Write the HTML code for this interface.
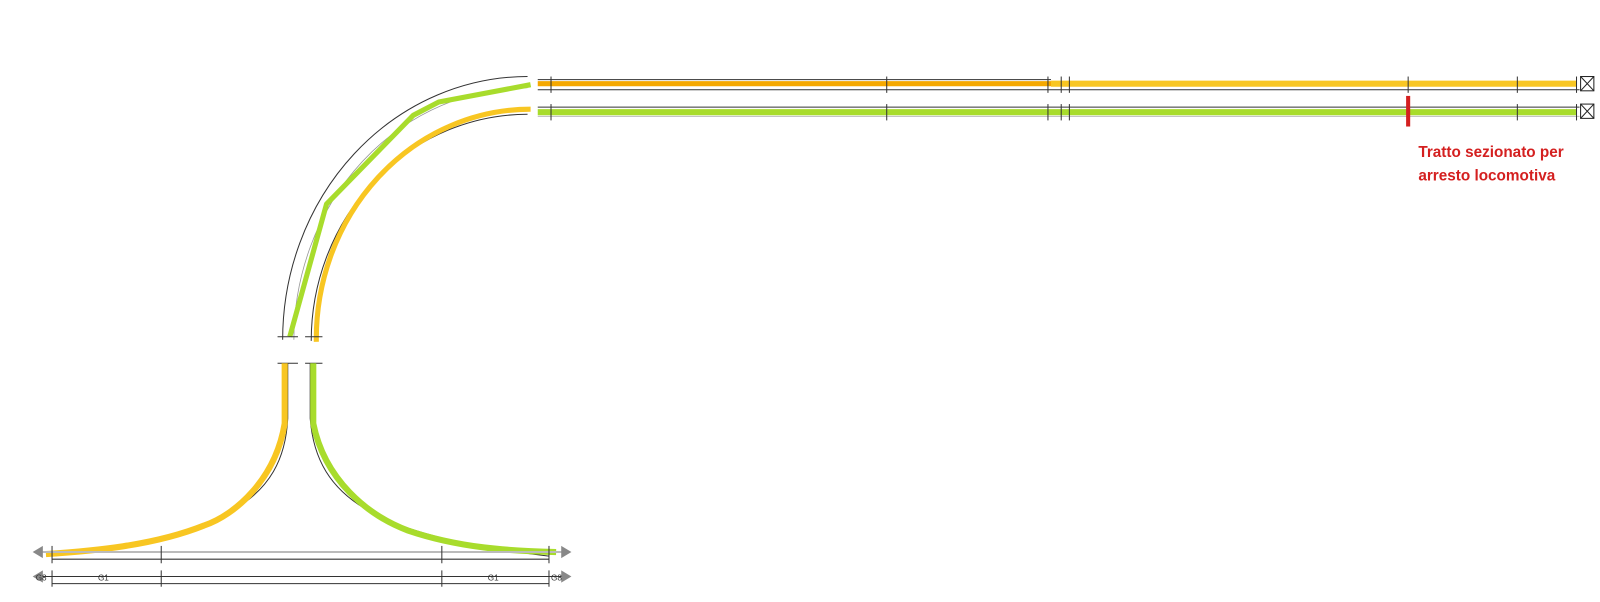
<!DOCTYPE html>
<html><head><meta charset="utf-8"><style>
html,body{margin:0;padding:0;background:#fff;width:1600px;height:602px;overflow:hidden}
svg{display:block}
</style></head><body>
<svg width="1600" height="602" viewBox="0 0 1600 602" xmlns="http://www.w3.org/2000/svg">
<g transform="scale(1.0204)">
<g fill="none" stroke-linecap="butt">
<line x1="527" y1="78" x2="1030" y2="78" stroke="#333" stroke-width="1"/>
<line x1="527" y1="88" x2="1548" y2="88" stroke="#333" stroke-width="1"/>
<line x1="527" y1="82" x2="1030" y2="82" stroke="#f5a800" stroke-width="5"/>
<line x1="1030" y1="82" x2="1545" y2="82" stroke="#f8c622" stroke-width="6"/>
<line x1="527" y1="105" x2="1548" y2="105" stroke="#333" stroke-width="1"/>
<line x1="527" y1="110" x2="1545" y2="110" stroke="#a8dc2c" stroke-width="6"/>
<line x1="527" y1="114" x2="1548" y2="114" stroke="#bbb" stroke-width="1"/>
<g stroke="#333" stroke-width="1">
<line x1="540" y1="75" x2="540" y2="91"/><line x1="869" y1="75" x2="869" y2="91"/><line x1="1027" y1="75" x2="1027" y2="91"/><line x1="1040" y1="75" x2="1040" y2="91"/><line x1="1048" y1="75" x2="1048" y2="91"/><line x1="1380" y1="75" x2="1380" y2="91"/><line x1="1487" y1="75" x2="1487" y2="91"/><line x1="1545" y1="75" x2="1545" y2="91"/>
<line x1="540" y1="102" x2="540" y2="118"/><line x1="869" y1="102" x2="869" y2="118"/><line x1="1027" y1="102" x2="1027" y2="118"/><line x1="1040" y1="102" x2="1040" y2="118"/><line x1="1048" y1="102" x2="1048" y2="118"/><line x1="1487" y1="102" x2="1487" y2="118"/><line x1="1545" y1="102" x2="1545" y2="118"/>
</g>
<g stroke="#222" stroke-width="1">
<rect x="1549" y="75" width="13" height="14"/><line x1="1549" y1="75" x2="1562" y2="89"/><line x1="1562" y1="75" x2="1549" y2="89"/>
<rect x="1549" y="102" width="13" height="14"/><line x1="1549" y1="102" x2="1562" y2="116"/><line x1="1562" y1="102" x2="1549" y2="116"/>
</g>
<line x1="1380" y1="94" x2="1380" y2="124" stroke="#d42020" stroke-width="4"/>

<path d="M517 75 A240 258 0 0 0 277 333" stroke="#333" stroke-width="1"/>
<path d="M517 86 A229 247 0 0 0 288 333" stroke="#999" stroke-width="0.8"/>
<path d="M517 112 A212 222 0 0 0 305 334" stroke="#333" stroke-width="1"/>
<polyline points="284,330 320,200 405,113 430,100 520,83" stroke="#a8dc2c" stroke-width="5" stroke-linejoin="round"/>
<path d="M520 107 A210 225 0 0 0 310 335" stroke="#f8c622" stroke-width="5"/>
<g stroke="#333" stroke-width="1">
<line x1="272" y1="330" x2="292" y2="330"/><line x1="299" y1="330" x2="316" y2="330"/>
<line x1="272" y1="356" x2="292" y2="356"/><line x1="299" y1="356" x2="316" y2="356"/>
</g>

<path d="M282 356 L282 410 C278 490 220 525 51 545" stroke="#333" stroke-width="1"/>
<path d="M279 356 L279 415 C270 470 230 505 200 515 C150 535 90 540 45 543" stroke="#f8c622" stroke-width="6"/>
<path d="M304 356 L304 410 C310 490 370 525 538 545" stroke="#333" stroke-width="1"/>
<path d="M307 356 L307 415 C318 470 360 505 400 520 C450 537 500 540 545 541" stroke="#a8dc2c" stroke-width="6"/>

<line x1="40" y1="541" x2="552" y2="541" stroke="#bbb" stroke-width="2"/>
<line x1="51" y1="548" x2="538" y2="548" stroke="#333" stroke-width="1"/>
<line x1="40" y1="565" x2="552" y2="565" stroke="#333" stroke-width="1"/>
<line x1="51" y1="572" x2="538" y2="572" stroke="#333" stroke-width="1"/>
<g stroke="#333" stroke-width="1">
<line x1="51" y1="535" x2="51" y2="552"/><line x1="158" y1="535" x2="158" y2="552"/><line x1="433" y1="535" x2="433" y2="552"/><line x1="538" y1="535" x2="538" y2="552"/>
<line x1="51" y1="559" x2="51" y2="575"/><line x1="158" y1="559" x2="158" y2="575"/><line x1="433" y1="559" x2="433" y2="575"/><line x1="538" y1="559" x2="538" y2="575"/>
</g>
</g>
<g fill="#888">
<polygon points="32,541 42,535 42,547"/><polygon points="560,541 550,535 550,547"/>
<polygon points="32,565 42,559 42,571"/><polygon points="560,565 550,559 550,571"/>
</g>
<g font-family="Liberation Sans, sans-serif" font-size="8" fill="#333">
<text x="96" y="569">G1</text><text x="478" y="569">G1</text>
<text x="35" y="569">G8</text><text x="540" y="569">G8</text>
</g>
<g font-family="Liberation Sans, sans-serif" font-size="15" font-weight="bold" fill="#d42020">
<text x="1390" y="154">Tratto sezionato per</text>
<text x="1390" y="177">arresto locomotiva</text>
</g>
</g>
</svg>
</body></html>
